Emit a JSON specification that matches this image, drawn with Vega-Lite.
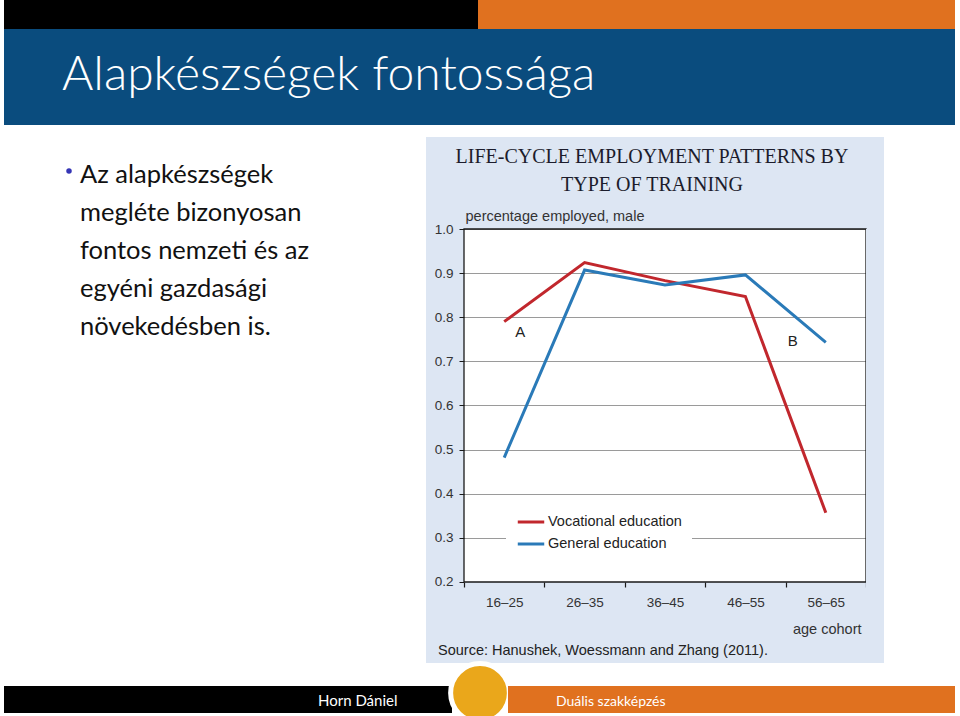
{
  "$schema": "https://vega.github.io/schema/vega-lite/v6.json",
  "background": "white",
  "padding": {"left": 4, "top": 0, "right": 5, "bottom": 3},
  "config": {
    "view": {"stroke": null},
    "title": {"fontWeight": "normal", "limit": 2000}
  },
  "bounds": "flush",
  "spacing": 0,
  "vconcat": [
    {
      "bounds": "flush",
      "spacing": 0,
      "hconcat": [
        {"width": 474, "height": 29, "view": {"fill": "#000000", "stroke": null}, "data": {"values": []}, "mark": "point"},
        {"width": 477, "height": 29, "view": {"fill": "#e0711f", "stroke": null}, "data": {"values": []}, "mark": "point"}
      ]
    },
    {"width": 951, "height": 29, "data": {"values": []}, "mark": "point"},
    {
      "width": 951, "height": 96,
      "view": {"fill": "#0a4c7e", "stroke": null},
      "data": {"values": []},
      "mark": "point",
      "title": {"text": "Alapkészségek fontossága", "orient": "bottom", "anchor": "start", "frame": "group", "offset": -73, "dx": 58, "color": "white", "font": "Lato", "fontSize": 48, "fontWeight": 300}
    },
    {
      "bounds": "flush",
      "spacing": 292,
      "hconcat": [
        {
          "width": 130, "height": 92,
          "data": {"values": [{"bullet": "•"}]},
          "mark": {"type": "circle", "color": "#3535b5", "size": 30, "opacity": 1},
          "title": {"text": ["Az alapkészségek", "megléte bizonyosan", "fontos nemzeti és az", "egyéni gazdasági", "növekedésben is."], "orient": "bottom", "anchor": "start", "frame": "group", "offset": -54, "dx": 76, "font": "Lato", "fontSize": 25.5, "lineHeight": 38, "color": "#111111"}
        },
        {
          "bounds": "flush",
          "spacing": 0,
          "vconcat": [
            {"width": 458, "height": 12, "data": {"values": []}, "mark": "point"},
            {
              "width": 458, "height": 92,
              "view": {"fill": "#dde6f3", "stroke": null},
              "data": {"values": []},
              "mark": "point",
              "title": {"text": ["LIFE-CYCLE EMPLOYMENT PATTERNS BY", "TYPE OF TRAINING"], "orient": "bottom", "anchor": "middle", "frame": "group", "offset": -82, "dx": -3, "font": "Liberation Serif", "fontSize": 20, "lineHeight": 28, "color": "#1c1c2c"}
            },
            {
              "bounds": "flush",
              "spacing": 0,
              "hconcat": [
                {"width": 38, "height": 434, "view": {"fill": "#dde6f3", "stroke": null}, "data": {"values": []}, "mark": "point"},
                {
                  "width": 402, "height": 434,
                  "view": {"fill": "white", "stroke": null},
                  "title": {"text": "Source: Hanushek, Woessmann and Zhang (2011).", "orient": "bottom", "anchor": "start", "frame": "group", "offset": -19, "dx": -26, "font": "Liberation Sans", "fontSize": 14.5, "color": "#222222"},
                  "layer": [
                    {
                      "data": {"values": [{}]},
                      "mark": {"type": "rect", "fill": "#dde6f3"},
                      "encoding": {
                        "y": {"datum": 0.2, "type": "quantitative",
                          "axis": {"values": [0.2, 0.3, 0.4, 0.5, 0.6, 0.7, 0.8, 0.9, 1.0], "format": ".1f", "domain": false, "grid": true, "gridColor": "#9a9a9a", "gridWidth": 1, "ticks": true, "tickSize": 5, "tickColor": "#1a1a1a", "labelFont": "Liberation Sans", "labelFontSize": 13.5, "labelColor": "#333333", "labelPadding": 6, "title": "percentage employed, male", "titleAngle": 0, "titleAlign": "left", "titleBaseline": "alphabetic", "titleX": 1, "titleY": -9, "titleFont": "Liberation Sans", "titleFontSize": 14.5, "titleFontWeight": "normal", "titleColor": "#333333"}},
                        "y2": {"datum": 0}
                      }
                    },
                    {
                      "data": {"values": [{}]},
                      "mark": {"type": "rect", "filled": false, "stroke": "#1a1a1a", "strokeWidth": 1.3},
                      "encoding": {
                        "y": {"datum": 1.0, "type": "quantitative",
                          "axis": {"values": [0.2, 0.3, 0.4, 0.5, 0.6, 0.7, 0.8, 0.9, 1.0], "format": ".1f", "domain": false, "grid": true, "gridColor": "#9a9a9a", "gridWidth": 1, "ticks": true, "tickSize": 5, "tickColor": "#1a1a1a", "labelFont": "Liberation Sans", "labelFontSize": 13.5, "labelColor": "#333333", "labelPadding": 6, "title": "percentage employed, male", "titleAngle": 0, "titleAlign": "left", "titleBaseline": "alphabetic", "titleX": 1, "titleY": -9, "titleFont": "Liberation Sans", "titleFontSize": 14.5, "titleFontWeight": "normal", "titleColor": "#333333"}},
                        "y2": {"datum": 0.2}
                      }
                    },
                    {
                      "data": {"values": [
                        {"cohort": "16–25", "education": "Vocational education", "value": 0.79},
                        {"cohort": "26–35", "education": "Vocational education", "value": 0.924},
                        {"cohort": "36–45", "education": "Vocational education", "value": 0.883},
                        {"cohort": "46–55", "education": "Vocational education", "value": 0.847},
                        {"cohort": "56–65", "education": "Vocational education", "value": 0.357},
                        {"cohort": "16–25", "education": "General education", "value": 0.482},
                        {"cohort": "26–35", "education": "General education", "value": 0.907},
                        {"cohort": "36–45", "education": "General education", "value": 0.873},
                        {"cohort": "46–55", "education": "General education", "value": 0.896},
                        {"cohort": "56–65", "education": "General education", "value": 0.743}
                      ]},
                      "mark": {"type": "line", "strokeWidth": 3},
                      "encoding": {
                        "x": {
                          "field": "cohort", "type": "ordinal",
                          "scale": {"type": "band", "domain": ["16–25", "26–35", "36–45", "46–55", "56–65"], "paddingInner": 0, "paddingOuter": 0},
                          "axis": {"orient": "bottom", "offset": -81, "domain": false, "grid": false, "ticks": true, "tickBand": "extent", "tickExtra": true, "tickSize": 5, "tickColor": "#1a1a1a", "tickWidth": 1.2, "labelFont": "Liberation Sans", "labelFontSize": 13.5, "labelColor": "#333333", "labelPadding": 8, "labelAngle": 0, "title": "age cohort", "titleFont": "Liberation Sans", "titleFontSize": 14.5, "titleFontWeight": "normal", "titleColor": "#333333", "titleX": 397, "titleY": 51, "titleAlign": "right", "titleBaseline": "alphabetic", "zindex": 1}
                        },
                        "y": {
                          "field": "value", "type": "quantitative",
                          "scale": {"domain": [0.01643, 1.0], "nice": false, "zero": false, "clamp": true},
                          "axis": {"values": [0.2, 0.3, 0.4, 0.5, 0.6, 0.7, 0.8, 0.9, 1.0], "format": ".1f", "domain": false, "grid": true, "gridColor": "#9a9a9a", "gridWidth": 1, "ticks": true, "tickSize": 5, "tickColor": "#1a1a1a", "labelFont": "Liberation Sans", "labelFontSize": 13.5, "labelColor": "#333333", "labelPadding": 6, "title": "percentage employed, male", "titleAngle": 0, "titleAlign": "left", "titleBaseline": "alphabetic", "titleX": 1, "titleY": -9, "titleFont": "Liberation Sans", "titleFontSize": 14.5, "titleFontWeight": "normal", "titleColor": "#333333"}
                        },
                        "color": {
                          "field": "education", "type": "nominal",
                          "scale": {"domain": ["Vocational education", "General education"], "range": ["#c1272d", "#2a7ab8"]},
                          "legend": {"title": null, "orient": "none", "legendX": 502, "legendY": 497, "padding": 10, "fillColor": "white", "symbolType": "stroke", "symbolSize": 700, "symbolStrokeWidth": 3, "labelFont": "Liberation Sans", "labelFontSize": 14.5, "labelColor": "#222222", "labelOffset": 2, "rowPadding": -2}
                        }
                      }
                    },
                    {
                      "data": {"values": [{"label": "A", "cohort": "16–25", "value": 0.767}]},
                      "mark": {"type": "text", "dx": 16, "font": "Liberation Sans", "fontSize": 15, "color": "#222222", "baseline": "middle"},
                      "encoding": {
                        "x": {"field": "cohort", "type": "ordinal"},
                        "y": {"field": "value", "type": "quantitative"},
                        "text": {"field": "label"}
                      }
                    },
                    {
                      "data": {"values": [{"label": "B", "cohort": "56–65", "value": 0.746}]},
                      "mark": {"type": "text", "dx": -33, "font": "Liberation Sans", "fontSize": 15, "color": "#222222", "baseline": "middle"},
                      "encoding": {
                        "x": {"field": "cohort", "type": "ordinal"},
                        "y": {"field": "value", "type": "quantitative"},
                        "text": {"field": "label"}
                      }
                    }
                  ]
                },
                {"width": 18, "height": 434, "view": {"fill": "#dde6f3", "stroke": null}, "data": {"values": []}, "mark": "point"}
              ]
            }
          ]
        }
      ]
    },
    {"width": 951, "height": 561, "data": {"values": []}, "mark": "point"},
    {
      "bounds": "flush",
      "spacing": 0,
      "hconcat": [
        {
          "width": 448, "height": 27,
          "view": {"fill": "#000000", "stroke": null},
          "data": {"values": []},
          "mark": "point",
          "title": {"text": "Horn Dániel", "orient": "bottom", "anchor": "start", "frame": "group", "offset": -19, "dx": 314, "font": "Lato", "fontSize": 15, "color": "white"}
        },
        {
          "width": 56, "height": 14,
          "data": {"values": [{"badge": "circle"}]},
          "mark": {"type": "circle", "color": "#eaa71b", "size": 3450, "opacity": 1, "stroke": "white", "strokeWidth": 5}
        },
        {
          "width": 447, "height": 27,
          "view": {"fill": "#e0711f", "stroke": null},
          "data": {"values": []},
          "mark": "point",
          "title": {"text": "Duális szakképzés", "orient": "bottom", "anchor": "start", "frame": "group", "offset": -18, "dx": 48, "font": "Lato", "fontSize": 14, "color": "white"}
        }
      ]
    }
  ]
}
